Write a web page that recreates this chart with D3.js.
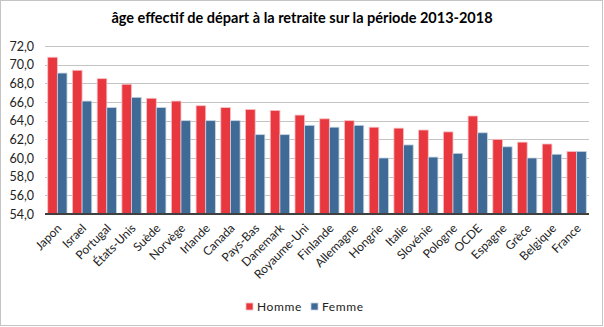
<!DOCTYPE html>
<html>
<head>
<meta charset="utf-8">
<script src="https://cdn.jsdelivr.net/npm/d3@7"></script>
<style>
  html, body { margin: 0; padding: 0; background: #fff; }
  svg { display: block; font-family: Lato, "Liberation Sans", sans-serif; }
</style>
</head>
<body>
<svg id="chart" width="604" height="327"></svg>
<script>
// Effective retirement age, 2013-2018, by country
const countries = ["Japon", "Israel", "Portugal", "États-Unis", "Suède", "Norvège", "Irlande",
  "Canada", "Pays-Bas", "Danemark", "Royaume-Uni", "Finlande", "Allemagne", "Hongrie",
  "Italie", "Slovénie", "Pologne", "OCDE", "Espagne", "Grèce", "Belgique", "France"];
const homme = [70.8, 69.4, 68.5, 67.9, 66.4, 66.1, 65.6, 65.4, 65.2, 65.1, 64.6, 64.2,
  64.0, 63.3, 63.2, 63.0, 62.8, 64.5, 62.0, 61.7, 61.5, 60.7];
const femme = [69.1, 66.1, 65.4, 66.5, 65.4, 64.0, 64.0, 64.0, 62.5, 62.5, 63.5, 63.3,
  63.5, 60.0, 61.4, 60.1, 60.5, 62.7, 61.2, 60.0, 60.4, 60.7];
const yTicks = [54, 56, 58, 60, 62, 64, 66, 68, 70, 72];
const seriesNames = ["Homme", "Femme"];
const seriesColors = ["#E8373F", "#3E6A95"];

const svg = d3.select("#chart");
const margin = { left: 45, right: 15, top: 46, bottom: 113 };
const W = 604, H = 327;

// outer frame
svg.append("rect")
  .attr("x", 0.5).attr("y", 0.5).attr("width", 602).attr("height", 325)
  .attr("fill", "#fff").attr("stroke", "#c4c4c4").attr("stroke-width", 1);

// title
svg.append("text")
  .attr("x", 302).attr("y", 23)
  .attr("text-anchor", "middle")
  .attr("font-size", 14.5).attr("font-weight", "bold").attr("fill", "#000")
  .text("âge effectif de départ à la retraite sur la période 2013-2018");

const x = d3.scaleBand().domain(countries)
  .range([margin.left, W - margin.right]).paddingInner(0.22).paddingOuter(0.11);
const xs = d3.scaleBand().domain(seriesNames).range([0, x.bandwidth()]);
const y = d3.scaleLinear().domain([54, 72]).range([H - margin.bottom, margin.top]);

// gridlines
svg.append("g").selectAll("line").data(yTicks.slice(1)).join("line")
  .attr("x1", margin.left).attr("x2", W - margin.right)
  .attr("y1", d => Math.round(y(d)) + 0.5).attr("y2", d => Math.round(y(d)) + 0.5)
  .attr("stroke", "#c4c4c4").attr("stroke-width", 1);

// y axis labels
const fmt = d => d3.format(".1f")(d).replace(".", ",");
const yAxis = svg.append("g")
  .attr("transform", `translate(${margin.left},0)`)
  .call(d3.axisLeft(y).tickValues(yTicks).tickFormat(fmt).tickSize(0).tickPadding(11));
yAxis.select(".domain").remove();
yAxis.selectAll("text").attr("font-size", 12.5).attr("fill", "#222")
  .attr("font-family", "Lato, 'Liberation Sans', sans-serif");

// bars
const rows = countries.map((c, i) => ({ c, vals: [homme[i], femme[i]] }));
const groups = svg.append("g").selectAll("g").data(rows).join("g")
  .attr("transform", d => `translate(${x(d.c)},0)`);
groups.selectAll("rect").data(d => d.vals.map((v, j) => ({ v, j }))).join("rect")
  .attr("x", d => xs(seriesNames[d.j]))
  .attr("width", xs.bandwidth())
  .attr("y", d => y(d.v))
  .attr("height", d => y(54) - y(d.v))
  .attr("fill", d => seriesColors[d.j])
  .attr("stroke", d => d.j === 0 ? "#f6c3c6" : "#c5d3e2")
  .attr("stroke-width", 0.8);

// x axis
const xAxis = svg.append("g")
  .attr("transform", `translate(0,${y(54)})`)
  .call(d3.axisBottom(x).tickSize(0).tickPadding(0));
xAxis.select(".domain").attr("stroke", "#404040").attr("stroke-width", 2.2)
  .attr("d", `M${margin.left},0H${W - margin.right}`);
xAxis.selectAll("text")
  .attr("font-size", 12).attr("fill", "#222")
  .attr("font-family", "Lato, 'Liberation Sans', sans-serif")
  .attr("text-anchor", "end")
  .attr("dy", 0)
  .attr("transform", "translate(5,15) rotate(-45)");

// legend
const legend = svg.append("g").attr("transform", "translate(246,303)");
const items = legend.selectAll("g").data(seriesNames).join("g")
  .attr("transform", (d, i) => `translate(${i * 65},0)`);
items.append("rect").attr("width", 7).attr("height", 7)
  .attr("fill", (d, i) => seriesColors[i])
  .attr("stroke", (d, i) => i === 0 ? "#f6c3c6" : "#c5d3e2").attr("stroke-width", 0.8);
items.append("text").attr("x", 11).attr("y", 8)
  .attr("font-size", 12).attr("fill", "#222").attr("letter-spacing", 0.6)
  .text(d => d);
</script>
</body>
</html>
